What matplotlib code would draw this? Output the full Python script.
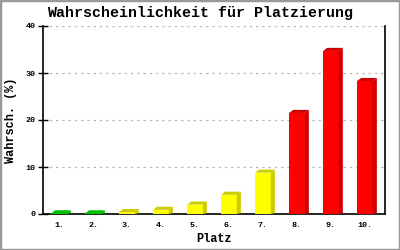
import matplotlib
matplotlib.use("Agg")
import matplotlib.pyplot as plt
from matplotlib.patches import Polygon, Rectangle

places = ["1.", "2.", "3.", "4.", "5.", "6.", "7.", "8.", "9.", "10."]
values = [0.15, 0.15, 0.4, 0.9, 2.0, 4.1, 8.8, 21.5, 34.7, 28.3]
front_colors = ["#00cc00", "#00cc00", "#ffff00", "#ffff00", "#ffff00", "#ffff00", "#ffff00",
                "#ff0000", "#ff0000", "#ff0000"]
side_colors = ["#00c000", "#00c000", "#cccc00", "#cccc00", "#cccc00", "#cccc00", "#cccc00",
               "#cc0000", "#cc0000", "#cc0000"]
yticks = [0, 10, 20, 30, 40]

mono = "Liberation Mono"
fig = plt.figure(figsize=(4, 2.5), dpi=100)
ax = fig.add_axes([0.1075, 0.144, 0.855, 0.752])
x = list(range(1, len(values) + 1))
w = 0.46
dx, dy = 0.12, 0.65
ax.bar(x, values, width=w, color=front_colors, zorder=3, linewidth=0)
for xi, v, sc in zip(x, values, side_colors):
    l, r = xi - w / 2, xi + w / 2
    top = Polygon([(l, v), (l + dx, v + dy), (r + dx, v + dy), (r, v)], closed=True,
                  facecolor=sc, edgecolor="none", zorder=3)
    side = Polygon([(r, 0), (r + dx, dy * 0.3), (r + dx, v + dy), (r, v)], closed=True,
                   facecolor=sc, edgecolor="none", zorder=3)
    ax.add_patch(top)
    ax.add_patch(side)

ax.set_xlim(0.53, 10.59)
ax.set_ylim(0, 40)
ax.set_yticks(yticks)
ax.set_xticks(x)
ax.set_xticklabels(places, fontfamily=mono, fontsize=6, fontweight="bold")
ax.set_yticklabels([str(t) for t in yticks], fontfamily=mono, fontsize=6, fontweight="bold")
ax.tick_params(axis="x", length=0, pad=6)
ax.tick_params(axis="y", direction="inout", length=7, width=1, pad=2)
for yt in yticks[1:]:
    ax.axhline(yt, color="#bbbbbb", linestyle=(0, (2, 3)), linewidth=0.9, zorder=1)
ax.spines["top"].set_visible(False)
for s in ["left", "bottom", "right"]:
    ax.spines[s].set_color("black")
    ax.spines[s].set_linewidth(1.2)
ax.set_xlabel("Platz", fontfamily=mono, fontweight="bold", fontsize=8.6, labelpad=3)
ax.set_ylabel("Wahrsch. (%)", fontfamily=mono, fontweight="bold", fontsize=8.6, labelpad=6)
fig.text(0.5, 0.948, "Wahrscheinlichkeit für Platzierung", ha="center", va="center",
         fontfamily=mono, fontsize=10.8, fontweight="bold")
fig.patches.append(Rectangle((0, 0), 1, 1, transform=fig.transFigure, fill=False,
                             edgecolor="#999999", linewidth=2.5))
fig.savefig("out.png", dpi=100)
